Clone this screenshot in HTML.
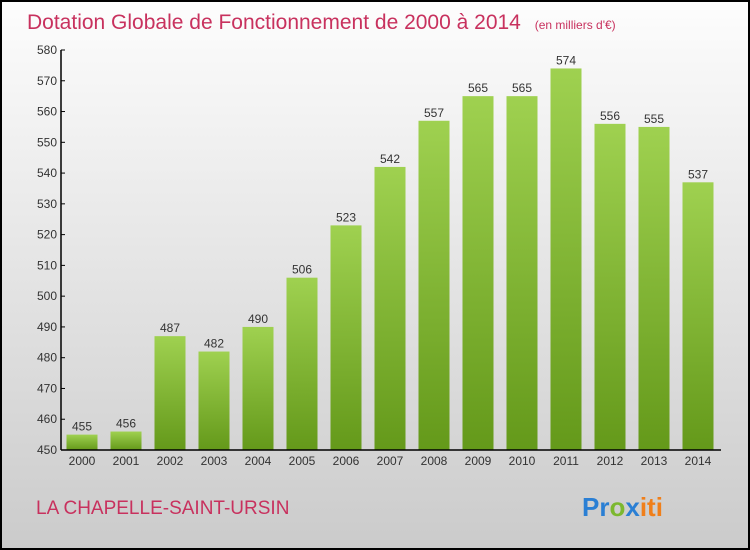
<!DOCTYPE html>
<html><head><meta charset="utf-8"><style>
body{margin:0}
svg{display:block;font-family:"Liberation Sans",sans-serif}
</style></head><body>
<svg id="c" width="750" height="550" viewBox="0 0 750 550">
<defs>
<linearGradient id="bg" x1="0" y1="0" x2="0" y2="1"><stop offset="0" stop-color="#fdfdfd"/><stop offset="1" stop-color="#cbcbcb"/></linearGradient>
<linearGradient id="bar" x1="0" y1="0" x2="0" y2="1"><stop offset="0" stop-color="#9fd150"/><stop offset="1" stop-color="#64991a"/></linearGradient>
</defs>
<rect x="1" y="1" width="748" height="548" fill="url(#bg)" stroke="#000" stroke-width="2"/>
<text x="27" y="29" font-size="21" fill="#c8315e">Dotation Globale de Fonctionnement de 2000 à 2014 <tspan font-size="12" dx="8">(en milliers d'€)</tspan></text>
<text x="36" y="514" font-size="19" fill="#c8315e">LA CHAPELLE-SAINT-URSIN</text>
<text x="582" y="516" font-size="26" font-weight="bold"><tspan fill="#2a7fd4">Pr</tspan><tspan fill="#7cb82f">o</tspan><tspan fill="#2a7fd4">x</tspan><tspan fill="#f07f1a">iti</tspan></text>
<g id="plot"></g>
</svg>
<script>
const categories=["2000","2001","2002","2003","2004","2005","2006","2007","2008","2009","2010","2011","2012","2013","2014"];
const values=[455,456,487,482,490,506,523,542,557,565,565,574,556,555,537];
const yTicks=[450,460,470,480,490,500,510,520,530,540,550,560,570,580];
const ns="http://www.w3.org/2000/svg";
const g=document.getElementById("plot");
const yMin=450,yMax=580,y0=450,y1=50,x0=61;
const y=v=>y0-(v-yMin)/(yMax-yMin)*(y0-y1);
const x=i=>82+i*44;
function mk(t,a){const e=document.createElementNS(ns,t);for(const k in a)e.setAttribute(k,a[k]);g.appendChild(e);return e;}
values.forEach((v,i)=>{
 const r=mk("rect",{x:x(i)-15.5,y:y(v),width:31,height:y0-y(v),fill:"url(#bar)"});
 
 
 const t=mk("text",{x:x(i),y:y(v)-4,"font-size":12,"text-anchor":"middle",fill:"#333"});
 t.textContent=v;
 
 
 const c=mk("text",{x:x(i),y:465,"font-size":12,"text-anchor":"middle",fill:"#333"});
 c.textContent=categories[i];
 
 
});
yTicks.forEach(v=>{
 const l=mk("line",{x1:x0,x2:x0+4,y1:y(v),y2:y(v),stroke:"#000"});
 
 
 const t=mk("text",{x:x0-4,y:y(v)+4,"font-size":12,"text-anchor":"end",fill:"#333"});
 t.textContent=v;
 
 
});
const ya=mk("line",{x1:x0,x2:x0,y1:y1,y2:y0,stroke:"#000","stroke-width":1.5});


const xa=mk("line",{x1:x0,x2:721,y1:y0,y2:y0,stroke:"#000","stroke-width":1.5});


</script>
</body></html>
